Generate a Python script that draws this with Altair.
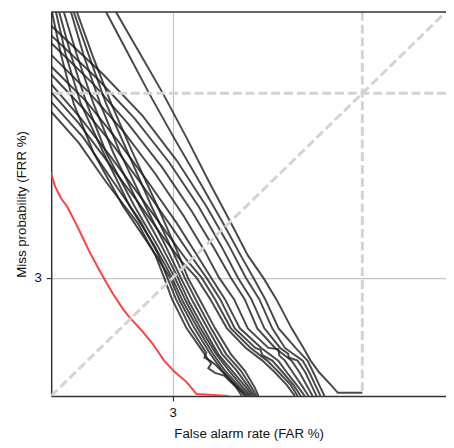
import altair as alt
import pandas as pd

# DET axis units (0-100 along each axis); the only labelled tick is "3" (%)
TICK_VALUE = 30.8
TICK_LABEL = "3"
REF_VALUE = 78.8          # dashed reference lines
DIAG = [0, 100]

# --- steep group entering through the top edge ---
A_LEVELS = [100.0, 88.8, 76.1, 63.4, 49.4, 39.2, 30.8, 24.7, 17.6, 10.9, 6.6, 2.3, 0.0]
a3_x = [0.2, 2.5, 5.7, 10.7, 18.2, 24.9, 30.1, 32.6, 36.3, 40.3, 43.3, 47.0, 49.5]
a4_x = [1.2, 3.7, 7.5, 13.2, 19.9, 26.1, 30.6, 33.3, 37.1, 41.0, 44.0, 47.8, 50.0]
a5_x = [2.0, 5.0, 9.0, 13.9, 21.1, 26.9, 31.3, 34.1, 37.8, 41.8, 45.0, 48.5, 50.5]
a6_x = [3.2, 6.5, 10.7, 15.7, 22.4, 27.9, 32.1, 34.8, 38.6, 42.3, 45.8, 49.3, 51.0]
a7_x = [5.0, 8.2, 12.4, 17.4, 23.9, 28.9, 32.8, 35.8, 39.6, 43.3, 47.0, 50.0, 51.5]
a8_x = [5.7, 9.5, 13.9, 19.4, 25.4, 30.1, 33.8, 36.8, 40.5, 44.3, 48.0, 50.7, 52.0]
a9_x = [6.5, 10.4, 15.2, 20.6, 26.9, 31.3, 34.6, 37.8, 41.5, 45.5, 49.0, 51.5, 52.5]

# --- steep group entering through the left edge ---
a1_x = [-2.0, 0.0, 7.0, 13.9, 21.9, 26.4, 28.6, 30.6, 34.3, 38.1, 40.5, 39.8, 41.5, 43.8, 46.8, 48.3]
a1_y = [76.6, 74.0, 65.9, 55.7, 45.0, 36.6, 30.8, 25.2, 17.6, 12.0, 8.4, 7.2, 6.0, 5.3, 2.3, 0.0]
a2_x = [-2.0, 0.0, 8.2, 14.9, 22.6, 26.9, 29.4, 31.6, 35.3, 39.3, 38.8, 40.5, 41.8, 44.8, 47.5, 49.0]
a2_y = [79.1, 76.6, 67.2, 57.0, 45.5, 37.2, 30.8, 25.2, 17.6, 11.2, 10.0, 9.0, 7.9, 4.8, 2.0, 0.0]

# --- shallower group entering through the left edge ---
B_BOTTOM = [30.8, 25.2, 17.6, 12.5, 9.2, 6.1, 2.8, 0.0]
b1_x = [-2.5, 0.0, 7.0, 14.4, 21.9, 28.1, 33.1, 36.8, 40.3, 44.5, 49.3, 53.5, 56.7, 59.7, 61.7]
b1_y = [81.7, 79.1, 71.0, 60.8, 50.6, 41.7, 34.9] + B_BOTTOM
b2_x = [-2.5, 0.0, 7.5, 15.2, 22.6, 28.9, 34.3, 38.1, 41.5, 45.5, 50.5, 54.7, 57.7, 60.7, 62.4]
b2_y = [83.7, 81.2, 72.3, 62.1, 51.9, 43.0, 35.4] + B_BOTTOM
b3_x = [-2.5, 0.0, 8.2, 16.2, 23.9, 30.3, 35.8, 39.3, 42.8, 46.5, 51.7, 53.0, 53.5, 56.0, 58.7, 61.4, 63.2]
b3_y = [86.3, 83.7, 74.8, 64.6, 53.7, 44.3, 35.9, 30.8, 25.2, 17.6, 12.5, 12.0, 10.6, 9.2, 6.1, 2.8, 0.0]
b4_x = [-2.5, 0.0, 9.0, 16.9, 24.9, 31.8, 37.1, 40.5, 44.0, 47.8, 53.2, 57.5, 59.7, 62.2, 64.2]
b4_y = [88.3, 85.8, 76.6, 66.4, 55.2, 45.0, 36.4] + B_BOTTOM
b5_x = [-2.5, 0.0, 9.5, 18.2, 26.4, 33.6, 38.8, 42.5, 46.3, 49.8, 55.0, 57.5, 57.8, 59.2, 61.2, 63.4, 65.2]
b5_y = [91.3, 88.8, 79.1, 69.0, 57.8, 46.8, 37.9, 30.8, 25.2, 17.6, 12.5, 12.2, 10.5, 9.2, 6.1, 2.8, 0.0]
b6_x = [-2.5, 0.0, 10.7, 19.4, 28.1, 35.6, 41.3, 45.5, 49.0, 52.2, 56.7, 60.9, 62.9, 64.7, 66.2]
b6_y = [94.4, 91.9, 81.2, 71.0, 59.5, 48.1, 38.4] + B_BOTTOM
b7_x = [-2.5, 0.0, 11.9, 21.1, 29.9, 37.3, 43.0, 47.3, 50.7, 54.0, 58.0, 60.0, 60.2, 62.4, 64.4, 65.9, 67.2]
b7_y = [96.4, 93.9, 82.4, 72.3, 60.8, 49.4, 39.2, 30.8, 25.2, 17.6, 12.5, 11.0, 10.0, 9.2, 6.1, 2.8, 0.0]
b8_x = [-2.5, 0.0, 13.2, 23.1, 31.8, 39.3, 45.0, 49.3, 52.7, 56.0, 59.2, 63.7, 65.4, 66.9, 68.2]
b8_y = [99.0, 96.4, 83.7, 73.0, 61.3, 49.4, 39.2] + B_BOTTOM

# --- two shallow curves entering through the top edge ---
TOP_LEVELS = [100.0, 89.3, 78.6, 67.2, 55.7, 44.5, 36.6, 30.8, 25.2, 17.6, 12.5, 9.2, 6.1, 2.8, 0.0]
t2_x = [13.9, 19.4, 24.9, 31.1, 37.6, 43.8, 48.0, 51.2, 54.2, 57.6, 61.9, 64.9, 66.4, 67.9, 69.2]
t1_x = [16.4, 22.4, 28.4, 34.3, 40.0, 45.8, 49.8, 53.7, 57.0, 60.9, 63.9, 65.7, 67.9, 70.9, 72.6, 78.8]
t1_y = [100.0, 89.3, 78.6, 67.2, 55.7, 44.5, 36.6, 30.8, 25.2, 17.6, 12.5, 9.2, 6.1, 2.8, 0.8, 0.8]

RED_X = [-2.0, 0.0, 1.0, 2.5, 4.0, 6.2, 8.0, 9.5, 11.9, 13.7, 15.7, 18.2, 19.9, 23.1, 25.6, 28.6, 31.1, 34.3, 36.8, 45.0]
RED_Y = [60.8, 57.8, 54.5, 51.4, 49.4, 45.0, 41.2, 37.9, 33.3, 30.0, 26.5, 22.6, 20.4, 16.8, 13.7, 9.2, 6.4, 3.6, 0.5, 0.0]

curves = {
    "a1": (a1_x, a1_y), "a2": (a2_x, a2_y),
    "a3": (a3_x, A_LEVELS), "a4": (a4_x, A_LEVELS), "a5": (a5_x, A_LEVELS),
    "a6": (a6_x, A_LEVELS), "a7": (a7_x, A_LEVELS), "a8": (a8_x, A_LEVELS),
    "a9": (a9_x, A_LEVELS),
    "b1": (b1_x, b1_y), "b2": (b2_x, b2_y), "b3": (b3_x, b3_y), "b4": (b4_x, b4_y),
    "b5": (b5_x, b5_y), "b6": (b6_x, b6_y), "b7": (b7_x, b7_y), "b8": (b8_x, b8_y),
    "t1": (t1_x, t1_y), "t2": (t2_x, TOP_LEVELS),
}

rows = []
for name, (xs, ys) in curves.items():
    for i, (xv, yv) in enumerate(zip(xs, ys)):
        rows.append({"curve": name, "i": i, "x": xv, "y": yv})
dark = pd.DataFrame(rows)
red = pd.DataFrame({"i": range(len(RED_X)), "x": RED_X, "y": RED_Y})
diag = pd.DataFrame({"x": DIAG, "y": DIAG})

FONT = "Liberation Sans"
xscale = alt.Scale(domain=[0, 100], nice=False, zero=False)
yscale = alt.Scale(domain=[0, 100], nice=False, zero=False)
label_expr = f"'{TICK_LABEL}'"

xaxis = alt.Axis(values=[TICK_VALUE], labelExpr=label_expr, grid=True,
                 title="False alarm rate (FAR %)", labelPadding=5, titlePadding=8)
yaxis = alt.Axis(values=[TICK_VALUE], labelExpr=label_expr, grid=True,
                 title="Miss probability (FRR %)", labelPadding=5, titlePadding=6)

lines = alt.Chart(dark).mark_line(color="#1c1c1c", opacity=0.8, strokeWidth=2, clip=True).encode(
    x=alt.X("x:Q", scale=xscale, axis=xaxis),
    y=alt.Y("y:Q", scale=yscale, axis=yaxis),
    detail="curve:N",
    order="i:Q",
)
red_line = alt.Chart(red).mark_line(color="#ff4040", strokeWidth=2, clip=True).encode(
    x="x:Q", y="y:Q", order="i:Q"
)
dash_style = dict(color="#d3d3d3", strokeWidth=3, strokeDash=[9, 4])
vref = alt.Chart().mark_rule(**dash_style).encode(x=alt.datum(REF_VALUE))
href = alt.Chart().mark_rule(**dash_style).encode(y=alt.datum(REF_VALUE))
diag_line = alt.Chart(diag).mark_line(clip=True, **dash_style).encode(x="x:Q", y="y:Q")
top_border = alt.Chart().mark_rule(color="#333333", strokeWidth=1.5).encode(y=alt.datum(100))

chart = alt.layer(lines, red_line, vref, href, diag_line, top_border).properties(
    width=402, height=391,
    autosize=alt.AutoSizeParams(type="none"),
    padding={"left": 44, "top": 0, "right": 0, "bottom": 48},
).configure_view(stroke=None).configure_axis(
    labelFont=FONT, titleFont=FONT, labelFontSize=13.5, titleFontSize=13.5,
    titleFontWeight="normal", labelColor="#111", titleColor="#111",
    domainColor="#333333", domainWidth=1.5, tickColor="#333333", tickWidth=1.2,
    tickSize=5, gridColor="#c4c4c4", gridWidth=1.2,
)

chart.save("out.html", embed_options={"renderer": "svg", "actions": False})
